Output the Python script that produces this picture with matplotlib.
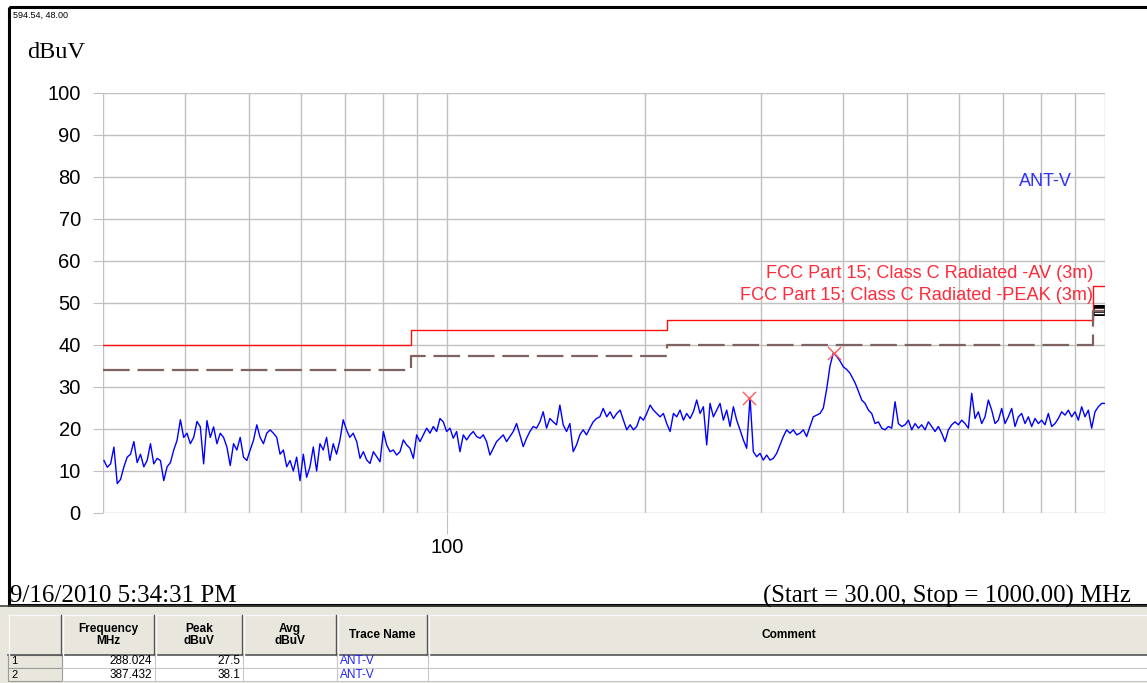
import numpy as np
import matplotlib

matplotlib.use("Agg")
import matplotlib.pyplot as plt
from matplotlib.patches import Rectangle

# ---- data -------------------------------------------------------------
# measured trace (ANT-V), pieces sampled on an even log-frequency grid
seg_a_mhz = (30.1, 72.0)
seg_a_dbuv = [
    12.5, 10.9, 11.7, 15.7, 7.0, 8.0, 11.0, 13.3, 14.0, 17.0,
    12.0, 14.0, 11.0, 12.5, 16.5, 11.7, 13.0, 12.5, 7.7, 11.0,
    12.0, 15.0, 17.3, 22.2, 18.0, 19.0, 16.5, 18.0, 21.8, 20.5,
    11.7, 22.0, 18.0, 20.5, 16.5, 19.0, 18.0, 15.7, 11.3, 16.5,
    15.0, 18.0, 13.3, 12.5, 15.0, 17.3, 21.0, 18.0, 16.5, 19.0,
    19.8, 19.0, 18.0, 14.0, 15.0, 11.0, 12.5, 10.0, 13.3, 7.7,
    14.0, 8.5, 11.0, 15.7, 10.0, 16.5, 15.0, 18.0, 12.5, 16.5,
    14.0, 17.3, 22.2, 19.8, 18.0, 19.0,
]
seg_b_mhz = (72.9, 172.7)
seg_b_dbuv = [
    17.0, 13.0, 14.6, 12.6, 11.8, 14.6, 13.4, 12.2, 19.4, 16.2,
    14.6, 15.0, 13.8, 14.6, 17.4, 16.2, 15.4, 13.0, 18.6, 17.0,
    18.6, 20.2, 19.0, 20.6, 19.4, 22.5, 21.7, 19.4, 20.2, 17.8,
    19.4, 14.6, 18.6, 17.4, 18.6, 19.4, 18.2, 17.8, 18.6, 17.0,
    13.8, 15.4, 17.0, 17.8, 18.6, 17.0, 18.2, 19.4, 21.3, 18.6,
    15.8, 17.8, 19.4, 20.6, 20.2, 21.7, 24.1, 20.2, 22.5, 21.7,
    21.0, 25.7, 21.0, 19.4, 21.3, 14.6, 16.2, 18.6, 19.8, 18.6,
    20.2, 21.7, 22.5, 22.9, 24.9,
]
seg_c_mhz = (174.9, 360.3)
seg_c_dbuv = [
    22.9, 24.1, 22.5, 23.7, 24.5, 22.1, 19.8, 21.0, 19.8, 20.6,
    22.9, 22.1, 23.7, 25.7, 24.5, 23.7, 22.9, 23.7, 21.3, 19.4,
    23.7, 22.9, 24.5, 22.1, 23.7, 22.5, 24.1, 26.9, 23.7, 25.3,
    16.2, 26.1, 22.9, 24.5, 26.1, 22.1, 24.5, 20.6, 25.3, 22.1,
    19.8, 17.4, 15.4, 27.5, 14.6, 13.4, 14.2, 12.6, 13.8, 12.6,
    13.0, 14.2, 16.2, 18.2, 19.8, 19.0, 19.8, 18.6, 19.0, 19.8,
    18.2, 20.6, 22.9,
]
seg_d_mhz = (364.6, 409.6)
seg_d_dbuv = [23.3, 23.7, 25.0, 29.5, 35.0, 38.1, 37.3, 36.2, 34.8, 34.2, 33.3]
seg_e_mhz = (417.0, 1000.0)
seg_e_dbuv = [
    31.0, 29.0, 26.9, 26.1, 24.5, 23.7, 21.3, 21.7, 20.2, 19.8,
    20.6, 20.2, 26.5, 21.3, 20.6, 21.0, 22.1, 19.8, 21.3, 20.2,
    21.0, 19.8, 21.7, 20.6, 19.4, 20.6, 19.0, 17.0, 19.8, 21.0,
    21.7, 21.0, 22.1, 21.3, 20.2, 28.5, 22.5, 24.1, 21.3, 22.9,
    26.9, 24.5, 21.3, 22.1, 24.9, 21.3, 22.9, 24.9, 20.6, 22.9,
    23.7, 21.3, 22.9, 20.6, 22.5, 21.3, 22.1, 21.0, 23.7, 20.6,
    21.3, 22.5, 24.1, 23.3, 24.5, 22.9, 24.1, 22.1, 25.3, 22.9,
    24.5, 20.2, 24.1, 25.3, 26.1, 26.1,
]

# FCC Part 15 class C limit steps (MHz edges, dBuV)
limit_edges = [30, 88, 216, 960, 1000]
limit_av = [40.0, 43.5, 46.0, 54.0]
limit_peak = [34.0, 37.5, 40.0, 48.0]

# marker table
mk_freq = [288.024, 387.432]
mk_peak = [27.5, 38.1]
mk_trace = ["ANT-V", "ANT-V"]

y_ticks = [0, 10, 20, 30, 40, 50, 60, 70, 80, 90, 100]
x_grid = [40, 50, 60, 70, 80, 90, 100, 200, 300, 400, 500, 600, 700, 800, 900]

W, H = 1147, 683
SANS = ["Liberation Sans", "DejaVu Sans"]
SERIF = ["Liberation Serif", "DejaVu Serif"]


def build_trace():
    fs, ls = [], []
    for (f0, f1), lv in [(seg_a_mhz, seg_a_dbuv), (seg_b_mhz, seg_b_dbuv),
                         (seg_c_mhz, seg_c_dbuv), (seg_d_mhz, seg_d_dbuv),
                         (seg_e_mhz, seg_e_dbuv)]:
        fs.append(np.geomspace(f0, f1, len(lv)))
        ls.append(np.asarray(lv))
    return np.concatenate(fs), np.concatenate(ls)


def step_xy(edges, levels):
    xs, ys = [], []
    for i, lv in enumerate(levels):
        xs += [edges[i], edges[i + 1]]
        ys += [lv, lv]
    return xs, ys


fig = plt.figure(figsize=(W / 100, H / 100), dpi=100)

# full-figure pixel axes for frame, captions and the marker table
deco = fig.add_axes([0, 0, 1, 1], zorder=0)
deco.set_xlim(0, W)
deco.set_ylim(H, 0)
deco.axis("off")

deco.add_patch(Rectangle((9, 7), W + 5, 598, fill=False, ec="black", lw=2.2))
deco.text(13, 15, "594.54, 48.00", fontsize=6.5, family=SANS, va="center")
deco.text(27, 52, "dBuV", fontsize=17.5, family=SERIF, va="center")
deco.text(10, 596, "9/16/2010 5:34:31 PM", fontsize=18, family=SERIF, va="center")
deco.text(1131, 596, "(Start = 30.00, Stop = 1000.00) MHz", fontsize=17.8,
          family=SERIF, va="center", ha="right")

# table
tbl_bg = "#e9e7dd"
deco.add_patch(Rectangle((0, 607), W, H - 607, fc=tbl_bg, ec="none"))
deco.plot([0, W], [606, 606], color="#404040", lw=1.2)
cols = [8, 62, 155, 243, 337, 428, W + 2]
heads = ["", "Frequency\nMHz", "Peak\ndBuV", "Avg\ndBuV", "Trace Name", "Comment"]
hdr_top, hdr_bot, row_h = 615, 655, 13
deco.plot([cols[0], W], [hdr_top, hdr_top], color="#f8f8f8", lw=1)
deco.plot([cols[0], W], [hdr_bot, hdr_bot], color="#555555", lw=1.2)
for i, name in enumerate(heads):
    x0, x1 = cols[i], cols[i + 1]
    deco.plot([x1 - 1, x1 - 1], [hdr_top, hdr_bot], color="#555555", lw=1)
    deco.plot([x0 + 1, x0 + 1], [hdr_top, hdr_bot], color="#fafafa", lw=1)
    if name:
        deco.text((x0 + x1) / 2, (hdr_top + hdr_bot) / 2, name, fontsize=8.6,
                  family=SANS, weight="bold", ha="center", va="center",
                  linespacing=0.95)
for r in range(len(mk_freq)):
    y0 = hdr_bot + r * row_h
    deco.add_patch(Rectangle((cols[1], y0), W - cols[1], row_h, fc="white",
                             ec="none"))
    deco.add_patch(Rectangle((cols[0], y0), cols[1] - cols[0], row_h,
                             fc=tbl_bg, ec="#9a9a9a", lw=0.8))
    deco.text(cols[0] + 3, y0 + row_h / 2, str(r + 1), fontsize=8,
              family=SANS, va="center")
    deco.text(cols[2] - 3, y0 + row_h / 2, f"{mk_freq[r]:.3f}", fontsize=8.5,
              family=SANS, va="center", ha="right")
    deco.text(cols[3] - 3, y0 + row_h / 2, f"{mk_peak[r]:.1f}", fontsize=8.5,
              family=SANS, va="center", ha="right")
    deco.text(cols[4] + 3, y0 + row_h / 2, mk_trace[r], fontsize=8.5,
              family=SANS, va="center", color="#2020ff")
    deco.plot([cols[1], W], [y0 + row_h, y0 + row_h], color="#c8c8c8", lw=0.8)
    for x in cols[2:-1]:
        deco.plot([x, x], [y0, y0 + row_h], color="#c8c8c8", lw=0.8)

# main plot
ax = fig.add_axes([103 / W, 170 / H, 1002 / W, 420 / H], zorder=1)
ax.set_facecolor("none")
ax.set_xscale("log")
ax.set_xlim(30, 1000)
ax.set_ylim(0, 100)
for s in ax.spines.values():
    s.set_visible(False)

for f in x_grid + [30, 1000]:
    ax.axvline(f, color="#c0c0c0", lw=1.0, zorder=1)
for v in y_ticks:
    ax.axhline(v, color="#c0c0c0", lw=1.0, zorder=1)

ax.set_yticks(y_ticks)
ax.set_yticklabels([str(v) for v in y_ticks], family=SANS, fontsize=14.5)
ax.tick_params(axis="y", length=7, color="#c0c0c0", pad=9)
ax.set_xticks([100])
ax.set_xticklabels(["100"], family=SANS, fontsize=14.5)
ax.xaxis.set_minor_locator(matplotlib.ticker.NullLocator())
ax.tick_params(axis="x", length=15, color="#c0c0c0", pad=3)

xs, ys = step_xy(limit_edges, limit_av)
ax.plot(xs, ys, color="#ff1010", lw=1.0, zorder=3)
xs, ys = step_xy(limit_edges, limit_peak)
ax.plot(xs, ys, color="#7f6262", lw=1.6, ls=(0, (12, 3.5)), zorder=3)

fq, lv = build_trace()
ax.plot(fq, lv, color="#0000ff", lw=1.0, zorder=4)
ax.scatter(mk_freq, mk_peak, marker="x", s=90, color="#ff5a5a", lw=1.0, zorder=5)

ax.text(0.988, 0.571, "FCC Part 15; Class C Radiated -AV (3m)", transform=ax.transAxes,
        ha="right", va="center", color="#ff2a3a", fontsize=13.1, family=SANS)
ax.text(0.988, 0.518, "FCC Part 15; Class C Radiated -PEAK (3m)", transform=ax.transAxes,
        ha="right", va="center", color="#ff2a3a", fontsize=13.1, family=SANS)
ax.text(0.967, 0.789, "ANT-V", transform=ax.transAxes, ha="right", va="center",
        color="#3030ff", fontsize=13, family=SANS)

# small black legend swatch at the right end of the limit lines
deco.add_patch(Rectangle((1093, 305), 12, 11, fc="black", ec="none", zorder=3))
deco.plot([1095, 1103], [309, 309], color="white", lw=1, zorder=4)
deco.plot([1095, 1103], [313, 313], color="white", lw=1, zorder=4)

fig.savefig("out.png", dpi=100)
